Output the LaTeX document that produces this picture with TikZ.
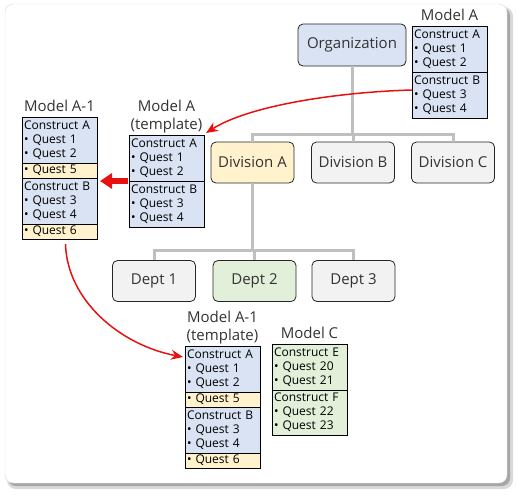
\documentclass[tikz,border=0pt]{standalone}
\usepackage{fontspec}
\setmainfont{Open Sans}
\usetikzlibrary{positioning,arrows.meta}
\definecolor{paleblue}{RGB}{218, 227, 243}
\definecolor{paleyellow}{RGB}{255, 242, 204}
\definecolor{palegreen}{RGB}{226, 240, 217}
\definecolor{palegray}{RGB}{242, 242, 242}
\definecolor{treegray}{RGB}{191, 191, 191}
\definecolor{alizarin}{RGB}{232, 17, 17}
\tikzset{
    orgbox/.style={draw=black!85, line width=0.8pt, rounded corners=5pt, minimum width=83pt, minimum height=41pt,
                   font=\fontsize{15}{18}\selectfont, text=black!80},
    construct/.style={draw=black, line width=0.8pt, fill=paleblue, align=left, text width=71pt, inner xsep=2pt,
                      inner ysep=1pt, outer sep=0pt, minimum height=46pt, font=\fontsize{12}{14}\selectfont, anchor=north west},
    extraquest/.style={construct, fill=paleyellow, minimum height=15pt},
    modeltitle/.style={align=center, font=\fontsize{15}{18}\selectfont, text=black!80, inner sep=0.5pt, text depth=4pt},
    treeline/.style={draw=treegray, line width=3pt},
    reuse/.style={draw=alizarin, line width=1.5pt, -{Stealth[length=12pt,width=10pt]}}
}
\begin{document}
\begin{tikzpicture}[x=1pt, y=-1pt]
            \useasboundingbox (0,0) rectangle (518,496);
            % Frame & shadow
            \fill[black!15, rounded corners=9pt]                           (7,7) rectangle (513,489);
            \fill[black!35, rounded corners=8pt]                           (8,8) rectangle (510,486);
            \filldraw[fill=white, draw=black!15, rounded corners=8pt]      (5,4) rectangle (507,483);
            % Organization tree
            \node[orgbox, fill=paleblue, minimum width=108pt, minimum height=42pt] (org) at (352,45) {Organization};
            \node[orgbox, fill=paleyellow] (divA)  at (252.5,162.5) {Division A};
            \node[orgbox, fill=palegray]   (divB)  at (353,162.5)   {Division B};
            \node[orgbox, fill=palegray]   (divC)  at (453,162.5)   {Division C};
            \node[orgbox, fill=palegray]   (dept1) at (154,281)     {Dept 1};
            \node[orgbox, fill=palegreen]  (dept2) at (254.5,281)   {Dept 2};
            \node[orgbox, fill=palegray]   (dept3) at (353.5,281)   {Dept 3};
            \coordinate (divbus)  at (352,134);
            \coordinate (deptbus) at (252.5,250);
            \draw[treeline] (org.south) -- (divbus);
            \draw[treeline] (divA.north) |- (divbus) -| (divC.north);
            \draw[treeline] (divB.north) -- (divB.north |- divbus);
            \draw[treeline] (divA.south) -- (deptbus);
            \draw[treeline] (dept1.north) |- (deptbus) -| (dept3.north);
            \draw[treeline] (dept2.north) -- (dept2.north |- deptbus);
            % Model A
            \node[construct] (modAa) at (412,26) {Construct A\\• Quest 1\\• Quest 2};
            \node[construct, below=0pt of modAa] (modAb) {Construct B\\• Quest 3\\• Quest 4};
            \node[modeltitle, above=1pt of modAa] (modAtitle) {Model A};
            % Model A (template)
            \node[construct] (tmpAa) at (129,135) {Construct A\\• Quest 1\\• Quest 2};
            \node[construct, below=0pt of tmpAa] (tmpAb) {Construct B\\• Quest 3\\• Quest 4};
            \node[modeltitle, above=1pt of tmpAa] (tmpAtitle) {Model A\\(template)};
            % Model A-1
            \node[construct] (modA1a) at (22,117) {Construct A\\• Quest 1\\• Quest 2};
            \node[extraquest, below=0pt of modA1a] (modA1q5) {• Quest 5};
            \node[construct, below=0pt of modA1q5] (modA1b) {Construct B\\• Quest 3\\• Quest 4};
            \node[extraquest, below=0pt of modA1b] (modA1q6) {• Quest 6};
            \node[modeltitle, above=1pt of modA1a] (modA1title) {Model A-1};
            % Model A-1 (template)
            \node[construct] (tmpA1a) at (185,346) {Construct A\\• Quest 1\\• Quest 2};
            \node[extraquest, below=0pt of tmpA1a] (tmpA1q5) {• Quest 5};
            \node[construct, below=0pt of tmpA1q5] (tmpA1b) {Construct B\\• Quest 3\\• Quest 4};
            \node[extraquest, below=0pt of tmpA1b] (tmpA1q6) {• Quest 6};
            \node[modeltitle, above=1pt of tmpA1a] (tmpA1title) {Model A-1\\(template)};
            % Model C
            \node[construct, fill=palegreen] (modCa) at (272,344) {Construct E\\• Quest 20\\• Quest 21};
            \node[construct, fill=palegreen, below=0pt of modCa, minimum height=45pt] (modCb) {Construct F\\• Quest 22\\• Quest 23};
            \node[modeltitle, above=1pt of modCa] (modCtitle) {Model C};
            % Reuse arrows
            \draw[reuse] ([yshift=5pt]modAb.west) .. controls (340,92) and (250,105) .. ([shift={(2pt,2pt)}]tmpAa.north east);
            \draw[reuse, line width=6pt, -{Triangle[length=12pt,width=15pt]}]
                 ([xshift=-1pt]tmpAa.south west) -- ([xshift=3pt]tmpAa.south west -| modA1q5.east);
            \draw[reuse] ([shift={(6pt,-5pt)}]modA1q6.south) .. controls (67,300) and (120,345) .. ([shift={(-2pt,12pt)}]tmpA1a.west);
        \end{tikzpicture}
\end{document}
